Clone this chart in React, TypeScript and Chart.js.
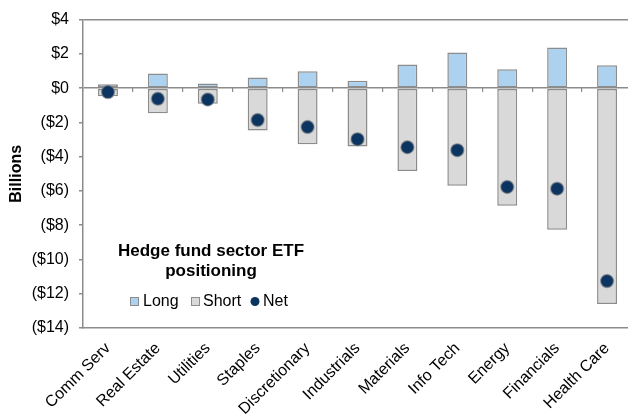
import React, { useEffect, useRef } from "react";
import { Chart, registerables } from "chart.js";

Chart.register(...registerables);

const categories = ["Comm Serv", "Real Estate", "Utilities", "Staples", "Discretionary", "Industrials", "Materials", "Info Tech", "Energy", "Financials", "Health Care"];
const longValues = [0.23, 0.85, 0.27, 0.62, 0.99, 0.43, 1.38, 2.08, 1.10, 2.37, 1.34];
const shortValues = [-0.48, -1.47, -0.91, -2.48, -3.27, -3.41, -4.83, -5.70, -6.86, -8.26, -12.6];
const netValues = [-0.23, -0.62, -0.66, -1.86, -2.27, -2.98, -3.45, -3.62, -5.77, -5.87, -11.26];
const legendTitle = ["Hedge fund sector ETF", "positioning"];
const legendLabels = ["Long", "Short", "Net"];

const FONT = '"Liberation Sans", Arial, sans-serif';
const LONG_COLOR = "#acd2f0";
const SHORT_COLOR = "#d9d9d9";
const NET_COLOR = "#0b3461";
const EDGE = "#8c8c8c";

const fmt = (v: number) => (v >= 0 ? `$${v}` : `($${-v})`);

const legendPlugin = {
  id: "innerLegend",
  afterDraw(chart: any) {
    const ctx = chart.ctx;
    ctx.save();
    ctx.fillStyle = "#000";
    ctx.textAlign = "center";
    ctx.textBaseline = "middle";
    ctx.font = `bold 17px ${FONT}`;
    ctx.fillText(legendTitle[0], 211, 251);
    ctx.fillText(legendTitle[1], 211, 271);
    ctx.font = `16px ${FONT}`;
    ctx.textAlign = "left";
    const y = 302;
    ctx.fillStyle = LONG_COLOR;
    ctx.strokeStyle = EDGE;
    ctx.lineWidth = 1;
    ctx.fillRect(130.5, y - 4.5, 8, 8);
    ctx.strokeRect(130.5, y - 4.5, 8, 8);
    ctx.fillStyle = "#000";
    ctx.fillText(legendLabels[0], 143, y);
    ctx.fillStyle = SHORT_COLOR;
    ctx.fillRect(191.5, y - 4.5, 8, 8);
    ctx.strokeRect(191.5, y - 4.5, 8, 8);
    ctx.fillStyle = "#000";
    ctx.fillText(legendLabels[1], 203, y);
    ctx.fillStyle = NET_COLOR;
    ctx.beginPath();
    ctx.arc(255, y - 0.5, 4.5, 0, Math.PI * 2);
    ctx.fill();
    ctx.fillStyle = "#000";
    ctx.fillText(legendLabels[2], 263, y);
    ctx.restore();
  },
};

export default function App() {
  const ref = useRef<HTMLCanvasElement | null>(null);

  useEffect(() => {
    document.body.style.margin = "0";
    const canvas = ref.current!;
    const chart = new Chart(canvas, {
      type: "bar",
      data: {
        labels: categories,
        datasets: [
          {
            type: "line",
            label: "Net",
            data: netValues,
            showLine: false,
            pointRadius: 6.5,
            pointHoverRadius: 6.5,
            pointBackgroundColor: NET_COLOR,
            pointBorderColor: "rgba(130,130,130,0.55)",
            pointBorderWidth: 1.5,
            order: 0,
            xAxisID: "x",
          } as any,
          {
            label: "Long",
            data: longValues,
            backgroundColor: LONG_COLOR,
            borderColor: EDGE,
            borderWidth: 1.5,
            borderSkipped: false,
            grouped: false,
            barPercentage: 0.4,
            categoryPercentage: 1,
            order: 1,
            xAxisID: "x",
          } as any,
          {
            label: "Short",
            data: shortValues,
            backgroundColor: SHORT_COLOR,
            borderColor: EDGE,
            borderWidth: 1.5,
            borderSkipped: false,
            grouped: false,
            barPercentage: 0.4,
            categoryPercentage: 1,
            order: 2,
            xAxisID: "x",
          } as any,
        ],
      },
      options: {
        animation: false,
        responsive: false,
        events: [],
        layout: { padding: { top: 18, right: 3, bottom: 0, left: 0 } },
        plugins: { legend: { display: false }, tooltip: { enabled: false } },
        scales: {
          x: {
            type: "category",
            position: "bottom",
            offset: true,
            grid: { display: true, drawOnChartArea: false, drawTicks: false, color: "transparent" },
            border: { display: true, color: EDGE, width: 1.5 },
            ticks: {
              color: "#000",
              font: { family: FONT, size: 16 },
              maxRotation: 45,
              minRotation: 45,
              padding: 11,
              autoSkip: false,
            },
            afterFit(scale: any) {
              scale.height = 86;
            },
          },
          x2: {
            type: "category",
            labels: categories,
            position: { y: 0 },
            offset: true,
            grid: { offset: true, drawOnChartArea: false, drawTicks: true, tickLength: 4, tickColor: EDGE, lineWidth: 1.2 },
            border: { display: false },
            ticks: { display: false },
          } as any,
          y: {
            min: -14,
            max: 4,
            ticks: {
              stepSize: 2,
              color: "#000",
              font: { family: FONT, size: 16 },
              padding: 10,
              callback: (v: any) => fmt(Number(v)),
            },
            grid: {
              color: (c: any) => (c.tick && (c.tick.value === 0 || c.tick.value === 4) ? EDGE : "transparent"),
              lineWidth: 1.5,
              tickColor: EDGE,
              tickLength: 4,
            },
            border: { display: true, color: EDGE, width: 1.5 },
            title: {
              display: true,
              text: "Billions",
              color: "#000",
              font: { family: FONT, size: 16, weight: "bold" },
              padding: { top: 7, bottom: 0 },
            },
            afterFit(scale: any) {
              scale.width = 83;
            },
          },
        },
      },
      plugins: [legendPlugin],
    } as any);
    return () => chart.destroy();
  }, []);

  return (
    <div style={{ width: 628, height: 414, overflow: "hidden", position: "relative", background: "#fff" }}>
      <canvas ref={ref} width={640} height={414} style={{ width: 640, height: 414, display: "block" }} />
    </div>
  );
}
